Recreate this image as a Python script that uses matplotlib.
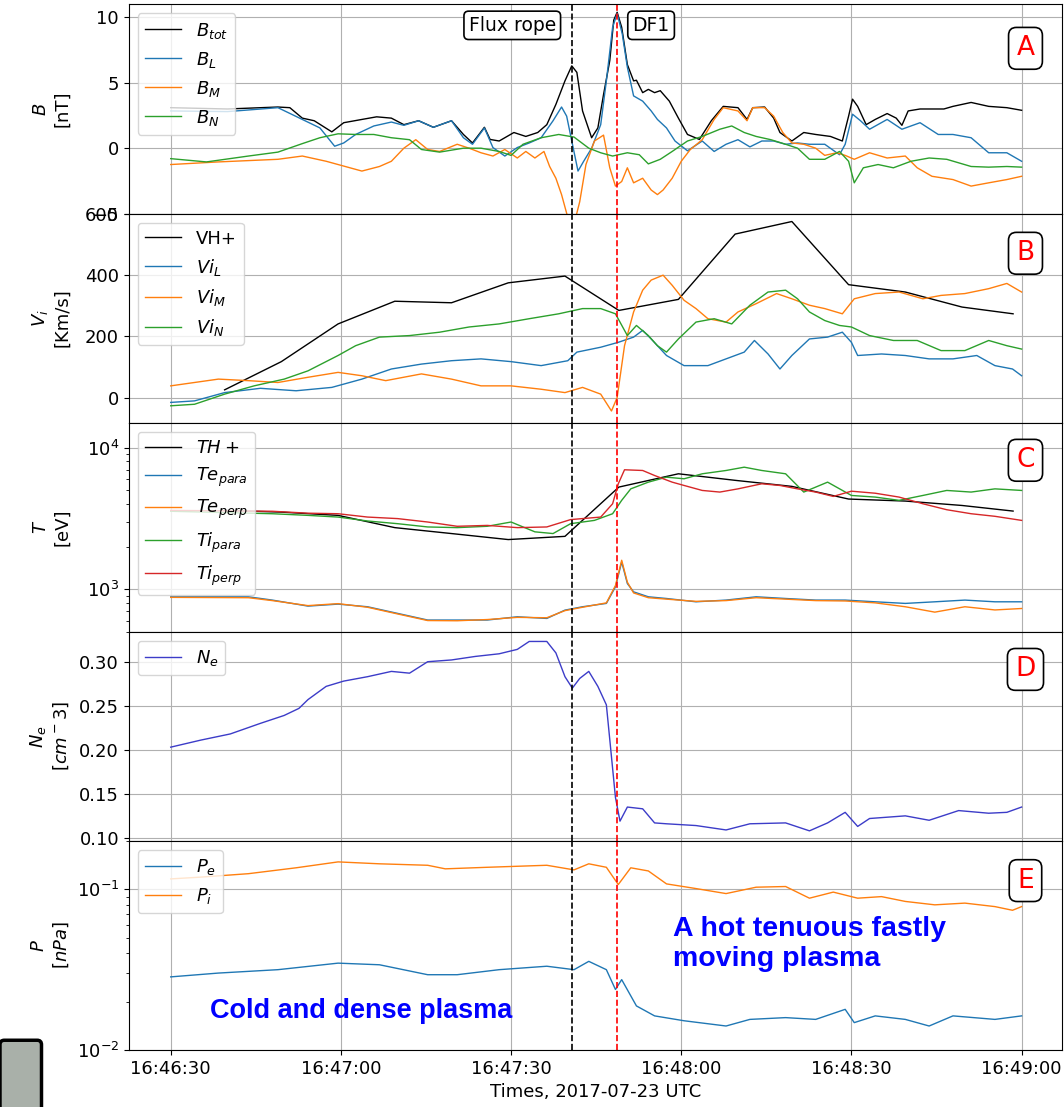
import numpy as np
import matplotlib
matplotlib.use('Agg')
import matplotlib.pyplot as plt
import matplotlib.dates as mdates
from matplotlib.patches import FancyBboxPatch

# ---------- Data (seconds after 16:46:30) ----------
t_btot = [0, 10, 18.9, 21, 23.2, 25.3, 28.4, 30.5, 33.7, 36.3, 38.9, 41.1, 43.7, 46.3, 49.5, 51.6, 53.2,
          55.3, 56.3, 57.9, 60.5, 62.6, 64.7, 66.3, 67.9, 69.5, 70.7, 71.6, 72.6, 74.2, 75.3, 76.3, 77.4,
          78.1, 78.7, 79.5, 80.5, 81.6, 82.1, 83.2, 84.2, 85.3, 86.3, 87.9, 89.5, 91.1, 93.2, 95.3, 97.4,
          100, 101.6, 102.6, 104.7, 106.3, 107.4, 109.5, 111.6, 113.7, 116.3, 118.4, 119.5, 120.2, 121.1,
          122.6, 124.2, 126.3, 127.9, 128.9, 130, 132.1, 136.3, 137.9, 141.1, 144.2, 147.4, 150]
b_tot = [3.1, 3.0, 3.15, 3.1, 2.3, 2.1, 1.25, 1.95, 2.2, 2.4, 2.3, 1.8, 2.1, 1.6, 2.1, 1.05, 0.4,
         1.6, 0.67, 0.55, 1.2, 0.9, 1.2, 1.8, 3.35, 5.15, 6.3, 5.8, 2.85, 0.8, 1.55, 4.1, 6.7,
         9.8, 10.4, 9.25, 6.4, 5.15, 5.2, 4.25, 4.5, 4.25, 4.4, 3.6, 2.3, 1.05, 0.67, 2.1, 3.2,
         3.1, 2.2, 3.1, 3.15, 2.3, 1.2, 0.55, 1.2, 1.05, 0.9, 0.55, 2.45, 3.75, 3.2,
         1.8, 2.2, 2.65, 2.3, 1.75, 2.85, 3.0, 3.0, 3.2, 3.5, 3.2, 3.1, 2.9]

t_bl = [0, 10, 18.9, 23.2, 26.3, 28.9, 30.5, 32.6, 35.8, 38.9, 41.1, 43.7, 46.3, 49.5, 51.6, 53.2, 55.3,
        56.8, 58.9, 61.1, 63.2, 65.3, 67.4, 68.9, 69.8, 70.7, 71.8, 72.8, 74.2, 75.8, 76.8, 77.9, 78.7,
        79.6, 80.5, 81.6, 83.2, 84.7, 85.8, 87.4, 88.9, 91.1, 93.7, 95.8, 97.9, 100, 102.1, 104.2, 106.3,
        108.4, 110.5, 112.6, 115.3, 117.9, 118.9, 120.2, 121.6, 123.2, 126.3, 128.9, 132.1, 135.3, 137.9,
        141.1, 144.2, 147.4, 150]
b_l = [2.85, 2.8, 3.1, 2.2, 1.55, 0.15, 0.4, 1.05, 1.7, 2.0, 1.75, 2.1, 1.6, 2.1, 0.8, 0.3, 1.55,
       0.05, -0.6, 0.05, 0.4, 0.8, 2.1, 3.15, 2.45, 0.55, -1.75, -1.0, 0.0, 1.8, 5.15, 9.25, 10.3,
       8.75, 6.2, 4.0, 3.6, 2.85, 2.2, 1.55, 0.55, -0.2, 0.55, -0.25, 0.3, 0.65, 0.1, 0.55, 0.55,
       0.3, 0.4, 0.3, 0.3, -0.5, 0.3, 2.6, 2.1, 1.45, 2.2, 1.45, 1.95, 1.05, 1.05,
       0.8, -0.35, -0.35, -1.0]

t_bm = [0, 8.4, 18.9, 23.2, 27.4, 31.6, 33.7, 36.8, 38.9, 41.1, 43.2, 45.3, 47.4, 50.5, 52.6, 54.7, 56.8,
        58.9, 61.1, 62.6, 64.2, 65.8, 66.8, 67.9, 68.9, 70.0, 71.4, 72.1, 73.2, 74.7, 76.3, 77.4, 78.4,
        79.5, 80.5, 81.6, 83.2, 84.7, 85.8, 86.8, 88.4, 90.0, 91.6, 93.7, 95.8, 97.4, 100, 101.6, 102.6,
        104.7, 106.3, 107.9, 109.5, 111.6, 113.7, 115.3, 117.4, 118.9, 120.5, 123.2, 126.3, 129.5, 131.6,
        134.2, 137.9, 141.1, 144.2, 147.4, 150]
b_m = [-1.25, -1.05, -0.85, -0.6, -1.0, -1.5, -1.75, -1.4, -1.0, 0.0, 0.65, -0.1, -0.25, 0.3, 0.0, -0.35, -0.6,
       -0.1, -0.75, -0.25, -0.75, -0.25, -1.4, -2.3, -3.55, -5.3, -5.3, -4.1, -1.25, 0.55, 1.0, -1.5, -2.9,
       -2.55, -1.5, -2.65, -2.3, -3.2, -3.55, -3.2, -2.3, -1.0, -0.1, 0.65, 2.2, 3.1, 2.85, 2.1, 3.1,
       3.1, 2.45, 1.2, 0.4, 0.3, 0.0, -0.55, -0.35, -0.55, -0.85, -0.35, -0.75, -0.6, -1.5,
       -2.15, -2.4, -2.9, -2.65, -2.4, -2.15]

t_bn = [0, 6.3, 13.7, 18.9, 23.2, 26.3, 29.5, 32.6, 35.8, 38.9, 42.1, 44.2, 47.4, 51.6, 54.7, 57.9, 60.0,
        62.1, 65.3, 68.4, 71.1, 73.7, 75.8, 77.9, 80.5, 82.6, 84.2, 86.3, 88.4, 91.1, 93.7, 96.8, 98.9,
        101.1, 103.2, 105.8, 108.4, 110.5, 112.6, 115.3, 117.9, 119.5, 120.5, 122.1, 124.7, 127.4, 130.5,
        133.7, 136.8, 141.1, 144.2, 147.4, 150]
b_n = [-0.8, -1.05, -0.6, -0.3, 0.35, 0.8, 1.1, 1.05, 1.05, 0.8, 0.65, -0.1, -0.3, 0.0, 0.0, -0.25, -0.55,
       0.3, 0.8, 1.05, 0.85, 0.0, -0.35, -0.6, -0.35, -0.5, -1.2, -0.85, -0.25, 0.55, 0.9, 1.45, 1.7,
       1.2, 0.9, 0.65, 0.3, 0.0, -0.85, -0.85, -0.25, -1.0, -2.65, -1.5, -1.25, -1.5, -1.0,
       -0.75, -0.85, -1.4, -1.45, -1.4, -1.45]

# low cadence moments (VH+, TH+)
t_hplus = [9.5, 19.5, 29.5, 39.5, 49.5, 59.5, 69.5, 79, 89.5, 99.5, 109.5, 119.5, 129.5, 139.5, 148.5]
v_hplus = [25, 117, 240, 314, 309, 374, 396, 284, 320, 533, 574, 368, 344, 295, 273]
temp_hplus = [3600, 3500, 3320, 2720, 2470, 2240, 2360, 5260, 6530, 5870, 5320, 4330, 4190, 3900, 3560]

t_vil = [0, 4.2, 9.5, 15.8, 22.1, 28.4, 33.7, 38.9, 44.2, 49.5, 54.7, 60.0, 65.3, 70.0, 71.6, 75.8, 78.9,
         81.6, 83.2, 84.7, 87.4, 90.5, 94.7, 97.9, 101.1, 102.9, 105.3, 107.4, 109.5, 112.6, 115.8, 118.4,
         120.0, 121.1, 125.3, 129.5, 133.7, 137.9, 142.1, 145.3, 148.4, 150]
vi_l = [-16, -11, 16, 30, 22, 33, 60, 93, 109, 120, 126, 117, 104, 120, 148, 164, 180,
        197, 219, 191, 137, 104, 104, 126, 148, 186, 142, 93, 137, 191, 197, 213,
        180, 137, 142, 137, 126, 126, 137, 104, 93, 71]

t_vim = [0, 4.2, 8.4, 13.7, 18.9, 24.2, 29.5, 33.7, 37.9, 44.2, 49.5, 54.7, 60.0, 65.3, 69.5, 72.6, 75.8,
         77.7, 78.7, 80.0, 81.6, 83.2, 84.7, 86.8, 88.4, 90.5, 92.6, 94.7, 97.9, 100.0, 103.2, 106.8, 109.5,
         112.6, 115.3, 118.4, 120.5, 124.2, 128.4, 132.6, 135.8, 140.0, 144.2, 147.4, 150]
vi_m = [38, 49, 60, 55, 49, 66, 82, 71, 55, 77, 60, 38, 38, 27, 16, 33, 11,
        -44, 0, 169, 279, 350, 383, 399, 366, 317, 290, 257, 246, 279, 306, 339, 322,
        301, 290, 273, 322, 339, 344, 322, 333, 339, 355, 372, 344]

t_vin = [0, 4.2, 9.5, 14.7, 20.0, 24.2, 29.5, 32.6, 36.8, 42.1, 47.4, 52.6, 57.9, 63.2, 68.4, 72.6, 75.8,
         78.4, 80.5, 82.1, 84.2, 85.8, 87.4, 89.5, 92.6, 95.8, 98.9, 102.1, 105.3, 108.4, 110.5, 112.6,
         115.3, 117.9, 120.0, 123.2, 127.4, 131.6, 135.8, 140.0, 144.2, 147.4, 150]
vi_n = [-27, -22, 11, 38, 60, 87, 137, 169, 197, 202, 213, 230, 240, 257, 273, 290, 290,
        273, 202, 235, 202, 169, 148, 191, 246, 257, 240, 301, 344, 350, 322, 279,
        251, 235, 230, 202, 186, 186, 153, 153, 186, 169, 158]

t_tiperp = [0, 17.9, 24.2, 29.5, 34.7, 40.0, 45.3, 50.5, 55.8, 61.1, 66.3, 70.5, 75.8, 77.9, 78.9, 80.0,
            83.2, 85.3, 88.4, 90.5, 93.7, 96.8, 100.0, 104.2, 107.4, 110.5, 113.7, 116.8, 120.0, 124.2,
            128.4, 132.6, 136.8, 141.1, 145.3, 150]
ti_perp = [3600, 3550, 3440, 3410, 3230, 3150, 2980, 2780, 2820, 2720, 2750, 3100, 3230, 4010, 5550, 6970,
           6890, 6350, 5700, 5400, 4980, 4850, 5110, 5550, 5400, 5110, 4850, 4520, 4920, 4760,
           4470, 4010, 3640, 3410, 3270, 3060]

t_tipara = [0, 17.9, 24.2, 29.5, 34.7, 40.0, 45.3, 50.5, 55.8, 60.0, 64.2, 67.4, 70.5, 74.7, 77.9, 79.5,
            81.1, 84.2, 87.4, 90.5, 93.7, 97.9, 101.1, 104.2, 108.4, 111.6, 115.8, 120.0, 124.2, 128.4,
            132.6, 136.8, 141.1, 145.3, 150]
ti_para = [3550, 3410, 3320, 3230, 3030, 2900, 2750, 2720, 2780, 2980, 2540, 2470, 2900, 3060, 3410, 4240,
           5110, 5700, 6180, 6020, 6530, 6890, 7270, 6890, 6530, 4850, 5700, 4590, 4470, 4240,
           4590, 4980, 4850, 5110, 4980]

t_te = [0, 13.7, 17.9, 24.2, 29.5, 34.7, 40.0, 45.3, 50.5, 55.8, 61.1, 66.3, 69.5, 72.6, 76.8, 78.4,
        79.5, 80.5, 81.6, 84.2, 87.4, 92.6, 97.9, 103.2, 108.4, 113.7, 118.9, 124.2, 129.5, 134.7,
        140.0, 145.3, 150]
te_para = [883, 883, 837, 759, 784, 751, 674, 605, 605, 605, 638, 621, 711, 751, 793, 1038,
           1556, 1096, 957, 883, 859, 814, 837, 883, 859, 837, 837, 814, 793, 814,
           837, 814, 814]
te_perp = [875, 870, 830, 765, 790, 745, 668, 600, 598, 610, 632, 628, 705, 745, 800, 1060,
           1600, 1120, 940, 870, 850, 820, 830, 870, 850, 830, 825, 800, 751, 688,
           751, 713, 730]

t_ne = [0, 5.3, 10.5, 15.8, 20.0, 22.6, 24.2, 27.4, 30.5, 34.7, 38.9, 42.1, 45.3, 49.5, 53.7, 57.9, 61.1,
        63.2, 66.3, 67.9, 69.5, 70.8, 72.1, 73.7, 75.3, 76.8, 77.7, 78.4, 79.2, 80.5, 83.2, 85.3, 87.4,
        92.6, 97.9, 102.1, 108.4, 112.6, 115.8, 118.9, 121.1, 123.2, 129.5, 133.7, 138.9, 144.2, 147.4, 150]
n_e = [0.203, 0.211, 0.218, 0.230, 0.239, 0.247, 0.257, 0.272, 0.278, 0.283, 0.289, 0.287, 0.300, 0.302,
       0.306, 0.309, 0.314, 0.323, 0.323, 0.310, 0.283, 0.270, 0.281, 0.289, 0.272, 0.251, 0.192, 0.146,
       0.119, 0.135, 0.133, 0.117, 0.116, 0.114, 0.109, 0.116, 0.117, 0.108, 0.117, 0.129, 0.113, 0.122,
       0.125, 0.120, 0.131, 0.128, 0.129, 0.135]

t_pi = [0, 5.3, 13.7, 22.1, 29.5, 36.8, 45.3, 48.4, 55.8, 66.3, 71.1, 73.7, 76.8, 78.9, 81.1, 84.2, 87.4,
        92.6, 97.9, 103.2, 108.4, 112.6, 116.8, 121.1, 125.3, 129.5, 134.7, 140.0, 145.3, 148.4, 150]
p_i = [0.116, 0.119, 0.125, 0.136, 0.148, 0.144, 0.141, 0.134, 0.137, 0.141, 0.132, 0.144, 0.137, 0.107,
       0.136, 0.130, 0.108, 0.101, 0.094, 0.103, 0.104, 0.088, 0.096, 0.088, 0.090, 0.084, 0.080, 0.082,
       0.078, 0.074, 0.078]

t_pe = [0, 8.4, 18.9, 29.5, 36.8, 45.3, 50.5, 57.9, 66.3, 71.1, 73.7, 76.8, 78.4, 79.5, 82.1, 85.3, 90.5,
        97.9, 102.1, 108.4, 113.7, 118.9, 120.5, 124.2, 129.5, 133.7, 137.9, 145.3, 150]
p_e = [0.0285, 0.0301, 0.0316, 0.0347, 0.0339, 0.0294, 0.0294, 0.0316, 0.0332, 0.0316, 0.0356, 0.0316,
       0.0238, 0.0274, 0.0188, 0.0163, 0.0152, 0.0141, 0.0155, 0.0159, 0.0155, 0.0179, 0.0148, 0.0163,
       0.0155, 0.0141, 0.0163, 0.0155, 0.0163]

t_fluxrope = 70.8
t_df1 = 78.7

# ---------- Helpers ----------
base = np.datetime64('2017-07-23T16:46:30')


def tt(sec):
    return base + (np.asarray(sec, dtype=float) * 1000).astype('timedelta64[ms]')


def panel_letter(ax, letter, y=0.80):
    ax.text(0.961, y, letter, transform=ax.transAxes, color='red', fontsize=19,
            ha='center', va='center',
            bbox=dict(boxstyle='round,pad=0.3', fc='white', ec='black', lw=1.2))


# ---------- Figure ----------
plt.rcParams['font.size'] = 13
fig, axes = plt.subplots(5, 1, sharex=True, figsize=(10.64, 11.07), dpi=100)
fig.subplots_adjust(left=0.121, right=0.998, top=0.996, bottom=0.0515, hspace=0)
axA, axB, axC, axD, axE = axes
lw = 1.0

# A: magnetic field
axA.plot(tt(t_btot), b_tot, color='k', lw=lw, label='$B_{tot}$')
axA.plot(tt(t_bl), b_l, color='C0', lw=lw, label='$B_L$')
axA.plot(tt(t_bm), b_m, color='C1', lw=lw, label='$B_M$')
axA.plot(tt(t_bn), b_n, color='C2', lw=lw, label='$B_N$')
axA.set_ylim(-5, 11)
axA.set_yticks([-5, 0, 5, 10])
axA.set_ylabel('$B$\n[nT]')
axA.text(tt(67.9), 9.4, 'Flux rope', ha='right', va='center', fontsize=13.5,
         bbox=dict(boxstyle='round,pad=0.25', fc='white', ec='black', lw=1.2))
axA.text(tt(81.4), 9.4, 'DF1', ha='left', va='center', fontsize=13.5,
         bbox=dict(boxstyle='round,pad=0.25', fc='white', ec='black', lw=1.2))
panel_letter(axA, 'A', 0.79)

# B: ion velocity
axB.plot(tt(t_hplus), v_hplus, color='k', lw=lw, label='VH+')
axB.plot(tt(t_vil), vi_l, color='C0', lw=lw, label='$Vi_L$')
axB.plot(tt(t_vim), vi_m, color='C1', lw=lw, label='$Vi_M$')
axB.plot(tt(t_vin), vi_n, color='C2', lw=lw, label='$Vi_N$')
axB.set_ylim(-82, 600)
axB.set_yticks([0, 200, 400, 600])
axB.set_ylabel('$V_i$\n[Km/s]')
panel_letter(axB, 'B', 0.81)

# C: temperatures
axC.plot(tt(t_hplus), temp_hplus, color='k', lw=lw, label='$TH+$')
axC.plot(tt(t_te), te_para, color='C0', lw=lw, label='$Te_{para}$')
axC.plot(tt(t_te), te_perp, color='C1', lw=lw, label='$Te_{perp}$')
axC.plot(tt(t_tipara), ti_para, color='C2', lw=lw, label='$Ti_{para}$')
axC.plot(tt(t_tiperp), ti_perp, color='C3', lw=lw, label='$Ti_{perp}$')
axC.set_yscale('log')
axC.set_ylim(500, 15000)
axC.set_ylabel('$T$\n[eV]')
panel_letter(axC, 'C', 0.82)

# D: density
axD.plot(tt(t_ne), n_e, color='#3c3cc8', lw=lw, label='$N_e$')
axD.set_ylim(0.0966, 0.334)
axD.set_yticks([0.10, 0.15, 0.20, 0.25, 0.30])
axD.yaxis.set_major_formatter(plt.FormatStrFormatter('%.2f'))
axD.set_ylabel('$N_e$\n$[cm^-3]$')
panel_letter(axD, 'D', 0.82)

# E: pressure
axE.plot(tt(t_pe), p_e, color='C0', lw=lw, label='$P_e$')
axE.plot(tt(t_pi), p_i, color='C1', lw=lw, label='$P_i$')
axE.set_yscale('log')
axE.set_ylim(0.01, 0.2)
axE.set_ylabel('$P$\n$[nPa]$')
panel_letter(axE, 'E', 0.81)
axE.text(tt(88.5), 0.068, 'A hot tenuous fastly\nmoving plasma', color='blue',
         fontsize=20.5, fontweight='bold', family='Liberation Sans', ha='left', va='top',
         linespacing=1.2)
axE.text(tt(6.9), 0.0174, 'Cold and dense plasma', color='blue',
         fontsize=19.5, fontweight='bold', family='Liberation Sans', ha='left', va='center')

# ---------- Common styling ----------
for ax in axes:
    ax.axvline(tt(t_fluxrope), color='k', ls='--', lw=1.2)
    ax.axvline(tt(t_df1), color='red', ls='--', lw=1.2)
    ax.grid(True, which='major', color='#b0b0b0', lw=0.8)
    ax.legend(loc='upper left', fontsize=13)
    ax.tick_params(labelsize=13)

axE.set_xlim(tt(-7.4), tt(157.1))
axE.xaxis.set_major_locator(mdates.SecondLocator(bysecond=[0, 30]))
axE.xaxis.set_major_formatter(mdates.DateFormatter('%H:%M:%S'))
axE.set_xlabel('Times, 2017-07-23 UTC', fontsize=13)
fig.align_ylabels(axes)

# grey patch in the lower left corner
fig.patches.append(FancyBboxPatch((0.0, -0.01), 0.039, 0.0703,
                                  boxstyle='round,pad=0,rounding_size=0.004',
                                  transform=fig.transFigure, fc='#a9b0a9', ec='black', lw=2.5))

fig.savefig('out.png', dpi=100)
